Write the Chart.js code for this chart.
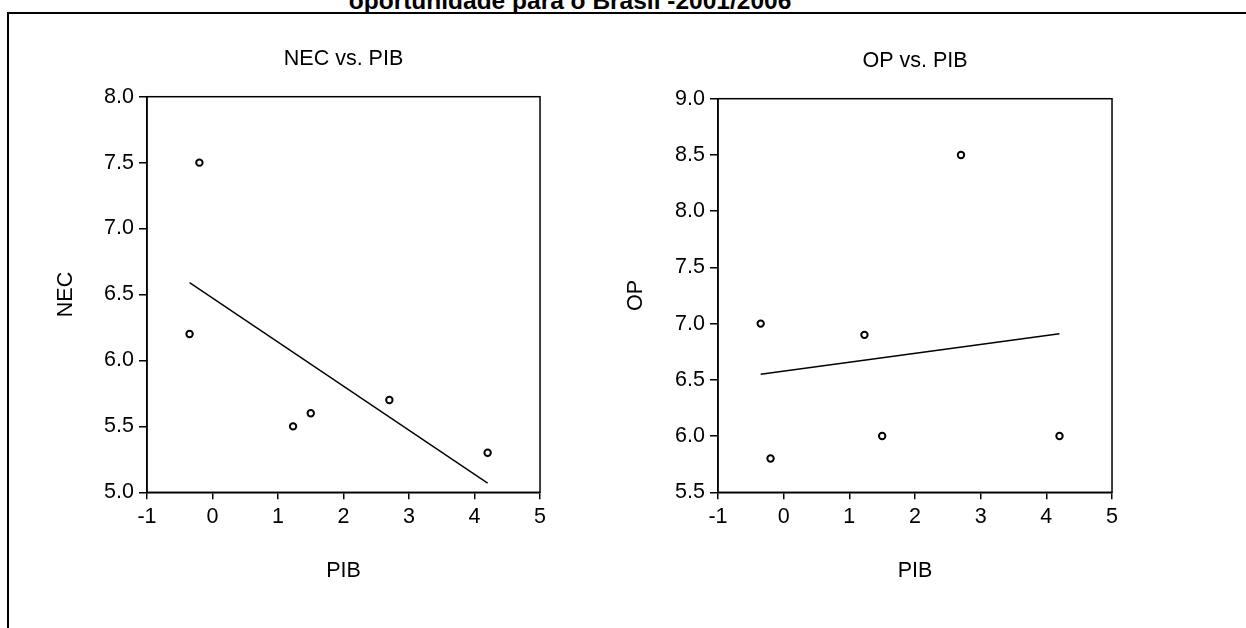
<!DOCTYPE html>
<html>
<head>
<meta charset="utf-8">
<script src="https://cdn.jsdelivr.net/npm/chart.js@4/dist/chart.umd.min.js"></script>
<style>
  html, body { margin: 0; padding: 0; background: #fff; width: 1246px; height: 628px; overflow: hidden; position: relative; }
  .frame { position: absolute; left: 7px; top: 12px; width: 1400px; height: 800px; border-top: 2px solid #000; border-left: 2px solid #000; }
  .maintitle { position: absolute; left: 0; top: -11px; width: 1140px; text-align: center; font: bold 24.5px Arial, "Liberation Sans", sans-serif; line-height: 24px; color: #000; white-space: nowrap; }
  canvas { position: absolute; }
</style>
</head>
<body>
<div class="maintitle">oportunidade para o Brasil -2001/2006</div>
<div class="frame"></div>
<canvas id="nec" width="511" height="560" style="left:40px;top:40px;"></canvas>
<canvas id="op" width="512" height="558" style="left:611px;top:42px;"></canvas>
<script>
// PIB values (x) shared by both plots
const pib = [-0.35, -0.2, 1.23, 1.5, 2.7, 4.2];
const nec = [6.2, 7.5, 5.5, 5.6, 5.7, 5.3];
const op = [7.0, 5.8, 6.9, 6.0, 8.5, 6.0];

// regression line end points
const fitX = [-0.35, 4.2];
const fitNec = [6.59, 5.07];
const fitOp = [6.55, 6.91];

const xRange = [-1, 5];
const necRange = [5, 8];
const opRange = [5.5, 9];

const FONT = "Arial, 'Liberation Sans', sans-serif";

// closed box around the plot area + panel title centred over it
const boxPlugin = {
  id: 'box',
  beforeDatasetsDraw(chart, args, opts) {
    const { ctx, chartArea: a } = chart;
    ctx.save();
    ctx.strokeStyle = '#000';
    ctx.lineWidth = 1.5;
    ctx.strokeRect(a.left, a.top, a.right - a.left, a.bottom - a.top);
    ctx.fillStyle = '#000';
    ctx.font = '21.5px ' + FONT;
    ctx.textAlign = 'center';
    ctx.textBaseline = 'middle';
    ctx.fillText(opts.text, (a.left + a.right) / 2, a.top - 38);
    ctx.restore();
  }
};

function pts(xs, ys) {
  return xs.map((x, i) => ({ x: x, y: ys[i] }));
}

function makeChart(id, title, yName, ys, fitY, yRange, yTitlePad) {
  return new Chart(document.getElementById(id), {
    type: 'scatter',
    data: {
      datasets: [
        {
          data: pts(pib, ys),
          pointRadius: 3.2,
          pointBorderWidth: 2,
          pointBackgroundColor: '#fff',
          pointBorderColor: '#000'
        },
        {
          data: pts(fitX, fitY),
          showLine: true,
          pointRadius: 0,
          borderColor: '#000',
          borderWidth: 1.4
        }
      ]
    },
    options: {
      responsive: false,
      animation: false,
      devicePixelRatio: 1,
      layout: { padding: { left: 0, right: 10, top: 56.7, bottom: 0 } },
      plugins: {
        legend: { display: false },
        tooltip: { enabled: false },
        title: { display: false },
        box: { text: title }
      },
      scales: {
        x: {
          type: 'linear',
          min: xRange[0],
          max: xRange[1],
          afterFit: s => { s.height = 107.7; },
          ticks: { stepSize: 1, color: '#000', padding: 5, font: { family: FONT, size: 21.5 } },
          grid: { drawOnChartArea: false, drawTicks: true, tickLength: 7, color: '#000', lineWidth: 1.5 },
          border: { display: true, color: '#000', width: 1.5 },
          title: { display: true, text: 'PIB', color: '#000', font: { family: FONT, size: 21.5 }, padding: { top: 0, bottom: 16.2 } }
        },
        y: {
          min: yRange[0],
          max: yRange[1],
          afterFit: s => { s.width = 107; },
          ticks: {
            stepSize: 0.5, color: '#000', padding: 5,
            font: { family: FONT, size: 21.5 },
            callback: v => v.toFixed(1)
          },
          grid: { drawOnChartArea: false, drawTicks: true, tickLength: 8, color: '#000', lineWidth: 1.5 },
          border: { display: true, color: '#000', width: 1.5 },
          title: { display: true, text: yName, color: '#000', font: { family: FONT, size: 21.5 }, padding: { top: yTitlePad, bottom: 0 } }
        }
      }
    },
    plugins: [boxPlugin]
  });
}

makeChart('nec', 'NEC vs. PIB', 'NEC', nec, fitNec, necRange, 13.1);
makeChart('op', 'OP vs. PIB', 'OP', op, fitOp, opRange, 12.1);
</script>
</body>
</html>
